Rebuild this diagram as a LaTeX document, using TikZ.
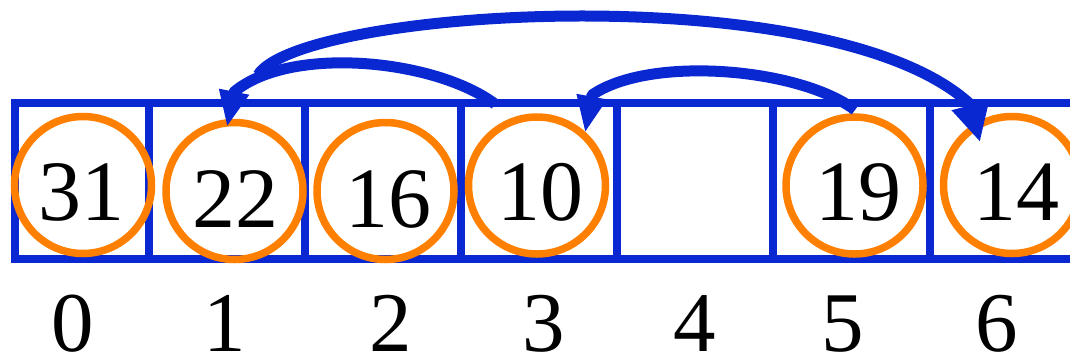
\documentclass[tikz,border=0pt]{standalone}
\usepackage{fontspec}
\setmainfont{Liberation Serif}
\usetikzlibrary{arrows.meta}
\definecolor{arrblue}{HTML}{0A28D2}
\definecolor{ringorange}{HTML}{FF7F00}
\begin{document}
\begin{tikzpicture}[x=1pt,y=-1pt,
  cellbox/.style={draw=arrblue, line width=8pt, minimum height=156pt, inner sep=0pt, outer sep=0pt},
  ring/.style={circle, draw=ringorange, line width=7.5pt, minimum size=137pt, inner sep=0pt, outer sep=0pt},
  val/.style={anchor=base, inner sep=0pt, font=\fontsize{86}{86}\selectfont},
  idx/.style={anchor=base, inner sep=0pt, font=\fontsize{85}{85}\selectfont},
  conn/.style={draw=arrblue, line width=11pt, line join=round}]
\useasboundingbox (0,0) rectangle (1070,357);
% array cells
\node[cellbox, minimum width=133.5pt] (k0) at (81.75,181) {};
\node[cellbox, minimum width=156.5pt] (k1) at (226.75,181) {};
\node[cellbox, minimum width=156pt] (k2) at (383,181) {};
\node[cellbox, minimum width=156pt] (k3) at (539,181) {};
\node[cellbox, minimum width=156pt] (k4) at (695,181) {};
\node[cellbox, minimum width=156.5pt] (k5) at (851.25,181) {};
\node[cellbox, minimum width=155.5pt] (k6) at (1007.25,181) {};
% rings
\node[ring] (c0) at (83,185) {};
\node[ring] (c1) at (234.5,191) {};
\node[ring] (c2) at (385.5,191) {};
\node[ring] (c3) at (537,185.5) {};
\node[ring] (c5) at (854.5,185.5) {};
\node[ring] (c6) at (1012,185) {};
% values
\node[val] (v0) at (81,220) {31};
\node[val] (v1) at (235,227) {22};
\node[val] (v2) at (388.5,227) {16};
\node[val] (v3) at (540,220) {10};
\node[val] (v5) at (858,220) {19};
\node[val] (v6) at (1016,220) {14};
% indices
\node[idx] (i0) at (73,351) {0};
\node[idx] (i1) at (225,351) {1};
\node[idx] (i2) at (391,351) {2};
\node[idx] (i3) at (544,351) {3};
\node[idx] (i4) at (695,351) {4};
\node[idx] (i5) at (843,351) {5};
\node[idx] (i6) at (997,351) {6};
% connector ends
\coordinate (a0) at (495,104);
\coordinate (a1) at (227,127);
\coordinate (b0) at (258,75);
\coordinate (b1) at (980,142);
\coordinate (d0) at (855,110);
\coordinate (d1) at (585,133);
% arrows
\draw[conn, -{Triangle[length=36pt,width=28pt]}] (a0) .. controls (435,59) and (290,45) .. (234,92) -- (a1);
\draw[conn, -{Triangle[length=38pt,width=36pt]}] (b0) .. controls (300,8) and (830,-25) .. (970,104) -- (b1);
\draw[conn, -{Triangle[length=37pt,width=28pt]}] (d0) .. controls (800,68) and (650,55) .. (592,95) -- (d1);
\end{tikzpicture}
\end{document}
